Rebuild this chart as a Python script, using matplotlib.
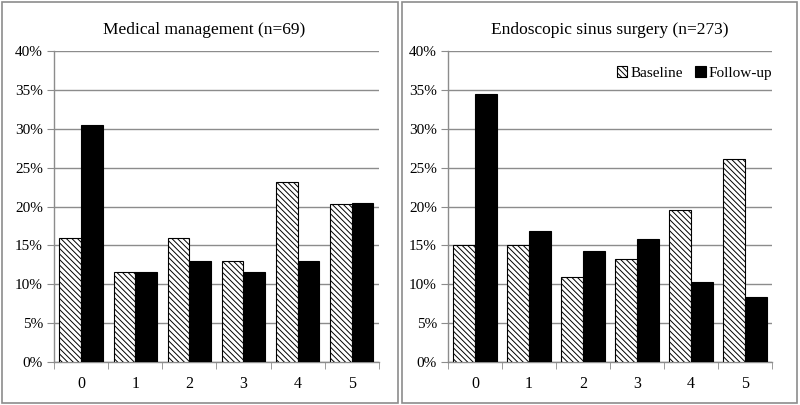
import numpy as np
import matplotlib
matplotlib.use('Agg')
import matplotlib.pyplot as plt
from matplotlib.patches import Rectangle
from matplotlib.ticker import FuncFormatter, FixedLocator

plt.rcParams['font.family'] = ['Liberation Serif', 'DejaVu Serif']
plt.rcParams['hatch.linewidth'] = 0.7

cats = ['0', '1', '2', '3', '4', '5']
titles = ['Medical management (n=69)', 'Endoscopic sinus surgery (n=273)']
med_base = [15.9, 11.6, 15.9, 13.0, 23.2, 20.3]
med_fu = [30.5, 11.6, 13.0, 11.6, 13.0, 20.4]
ess_base = [15.0, 15.0, 11.0, 13.2, 19.5, 26.1]
ess_fu = [34.5, 16.8, 14.3, 15.8, 10.3, 8.4]

fig = plt.figure(figsize=(8, 4.05), dpi=100)
# panel frames
for x0 in (0.003, 0.502):
    fig.patches.append(Rectangle((x0, 0.005), 0.494, 0.99, transform=fig.transFigure,
                                 fill=False, edgecolor='#8c8c8c', lw=1.2))

axpos = [[0.0675, 0.106, 0.406, 0.768], [0.56, 0.106, 0.405, 0.768]]
title_x = [0.462, 0.5]
x = np.arange(len(cats))
w = 0.4
for i, (base, fu) in enumerate([(med_base, med_fu), (ess_base, ess_fu)]):
    ax = fig.add_axes(axpos[i])
    ax.bar(x - w / 2, base, w, color='white', edgecolor='black', hatch='\\\\\\\\\\\\',
           lw=0.8, label='Baseline', zorder=3)
    ax.bar(x + w / 2, fu, w, color='black', edgecolor='black', lw=0.8,
           label='Follow-up', zorder=3)
    ax.set_xlim(-0.5, 5.5)
    ax.set_ylim(0, 40)
    ax.set_yticks(np.arange(0, 41, 5))
    ax.yaxis.set_major_formatter(FuncFormatter(lambda v, p: '%d%%' % v))
    ax.grid(axis='y', color='#8c8c8c', lw=1.0, zorder=0)
    ax.set_xticks(x)
    ax.set_xticklabels(cats)
    ax.xaxis.set_minor_locator(FixedLocator(np.arange(-0.5, 6, 1)))
    ax.tick_params(axis='x', which='major', length=0, pad=10, labelsize=11.5)
    ax.tick_params(axis='x', which='minor', length=5, color='#8c8c8c', direction='out')
    ax.tick_params(axis='y', length=5, color='#8c8c8c', labelsize=11, pad=3)
    for s in ('top', 'right'):
        ax.spines[s].set_visible(False)
    for s in ('left', 'bottom'):
        ax.spines[s].set_color('#8c8c8c')
        ax.spines[s].set_linewidth(1.0)
    ax.set_title(titles[i], fontsize=12.5, pad=12, x=title_x[i])
    if i == 1:
        ax.legend(loc='upper right', bbox_to_anchor=(1.02, 0.97), frameon=False,
                  fontsize=11, handlelength=0.7, handleheight=0.7, handletextpad=0.2,
                  columnspacing=0.8, ncol=2, borderaxespad=0)

fig.savefig('out.png', dpi=100)
